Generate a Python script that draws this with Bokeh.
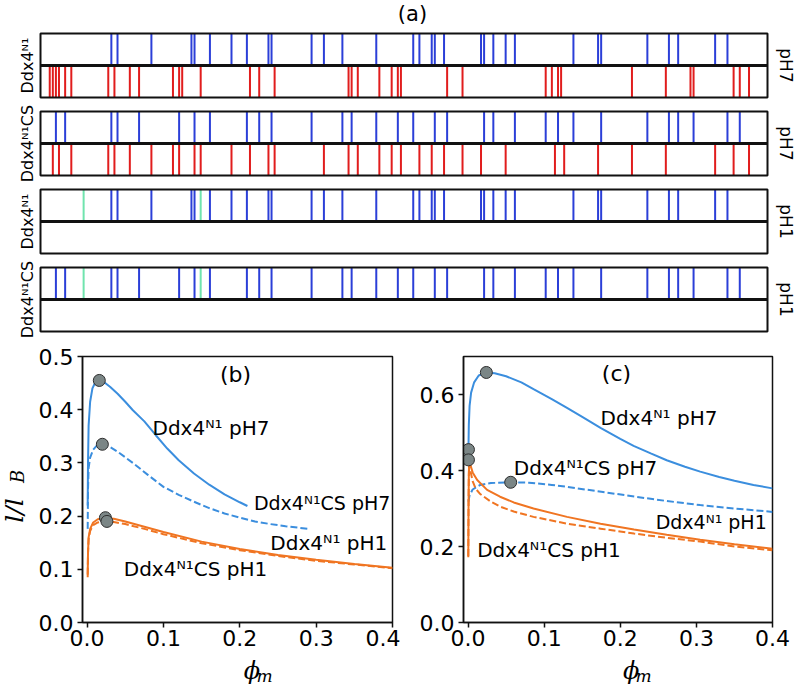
import math
from bokeh.plotting import figure
from bokeh.layouts import column, row
from bokeh.models import Range1d, Label, FixedTicker, PrintfTickFormatter
from bokeh.embed import file_html
from bokeh.resources import INLINE

# ---------------- data: panel (a) charge positions (residue index) ----------------
SEQ_LEN = 236
ddx4_pos = [23, 25, 36, 49, 50, 55, 62, 67, 74, 75, 88, 92, 98, 109, 121, 123, 127, 128, 131,
            143, 144, 147, 151, 154, 173, 181, 182, 197, 204, 207, 219, 223]
ddx4_neg = [3, 4, 5, 6, 8, 10, 22, 24, 29, 32, 43, 45, 46, 52, 68, 71, 76, 100, 101, 103, 110,
            114, 116, 117, 132, 137, 164, 166, 168, 169, 192, 203, 211, 212, 225, 227, 230]
ddx4cs_pos = [5, 8, 23, 25, 32, 45, 50, 55, 67, 71, 75, 88, 98, 101, 109, 116, 121, 128, 132,
              144, 147, 154, 164, 168, 173, 182, 197, 204, 207, 212, 223, 227]
ddx4cs_neg = [4, 6, 10, 22, 24, 29, 36, 43, 45, 50, 52, 62, 68, 74, 76, 92, 100, 103, 110, 114,
              117, 123, 127, 131, 137, 143, 151, 167, 170, 181, 192, 203, 219, 225, 230]
ph1_extra = [14, 52]

strip_names = ["Ddx4ᴺ¹", "Ddx4ᴺ¹CS", "Ddx4ᴺ¹", "Ddx4ᴺ¹CS"]
strip_ph = ["pH7", "pH7", "pH1", "pH1"]
strip_pos = [ddx4_pos, ddx4cs_pos, ddx4_pos, ddx4cs_pos]
strip_neg = [ddx4_neg, ddx4cs_neg, [], []]
strip_extra = [[], [], ph1_extra, ph1_extra]

# ---------------- data: panel (b) ----------------
b_phi_n1_ph7 = [0.0008, 0.0012, 0.002, 0.004, 0.007, 0.011, 0.016, 0.022, 0.03, 0.04, 0.05, 0.06,
                0.075, 0.09, 0.105, 0.12, 0.14, 0.16, 0.18, 0.2, 0.21]
b_l_n1_ph7 = [0.22, 0.30, 0.37, 0.415, 0.44, 0.452, 0.455, 0.452, 0.443, 0.43, 0.415, 0.399,
              0.378, 0.352, 0.327, 0.305, 0.28, 0.259, 0.241, 0.226, 0.219]
b_phi_cs_ph7 = [0.0008, 0.0012, 0.002, 0.004, 0.008, 0.013, 0.02, 0.03, 0.04, 0.06, 0.08, 0.1,
                0.12, 0.14, 0.16, 0.18, 0.2, 0.22, 0.24, 0.26, 0.29]
b_l_cs_ph7 = [0.176, 0.25, 0.29, 0.31, 0.325, 0.333, 0.335, 0.33, 0.321, 0.30, 0.277, 0.255,
              0.24, 0.227, 0.215, 0.205, 0.197, 0.19, 0.185, 0.181, 0.176]
b_phi_n1_ph1 = [0.0008, 0.0012, 0.002, 0.004, 0.008, 0.014, 0.024, 0.035, 0.05, 0.075, 0.1, 0.15,
                0.2, 0.25, 0.3, 0.35, 0.4]
b_l_n1_ph1 = [0.085, 0.13, 0.16, 0.176, 0.188, 0.194, 0.197, 0.195, 0.19, 0.18, 0.17, 0.152,
              0.138, 0.127, 0.118, 0.11, 0.103]
b_phi_cs_ph1 = [0.0008, 0.0012, 0.002, 0.004, 0.008, 0.014, 0.026, 0.035, 0.05, 0.075, 0.1, 0.15,
                0.2, 0.25, 0.3, 0.35, 0.4]
b_l_cs_ph1 = [0.09, 0.13, 0.157, 0.172, 0.183, 0.188, 0.19, 0.189, 0.185, 0.176, 0.166, 0.149,
              0.136, 0.125, 0.116, 0.109, 0.102]
b_crit_phi = [0.016, 0.02, 0.024, 0.026]
b_crit_l = [0.455, 0.335, 0.197, 0.19]

# ---------------- data: panel (c) ----------------
c_phi_n1_ph7 = [0.0005, 0.001, 0.002, 0.004, 0.008, 0.014, 0.024, 0.035, 0.05, 0.07, 0.086, 0.11,
                0.13, 0.15, 0.174, 0.2, 0.2175, 0.24, 0.261, 0.285, 0.305, 0.33, 0.35, 0.375, 0.4]
c_l_n1_ph7 = [0.455, 0.52, 0.57, 0.605, 0.632, 0.65, 0.658, 0.656, 0.648, 0.632, 0.614, 0.588,
              0.565, 0.541, 0.512, 0.483, 0.465, 0.445, 0.427, 0.41, 0.397, 0.383, 0.373, 0.362, 0.353]
c_phi_cs_ph7 = [0.0005, 0.002, 0.006, 0.016, 0.03, 0.056, 0.08, 0.11, 0.13, 0.175, 0.22, 0.26,
                0.305, 0.35, 0.4]
c_l_cs_ph7 = [0.318, 0.335, 0.35, 0.362, 0.367, 0.369, 0.368, 0.362, 0.357, 0.344, 0.331, 0.32,
              0.309, 0.3, 0.291]
c_phi_n1_ph1 = [0.0003, 0.0006, 0.001, 0.0015, 0.003, 0.006, 0.012, 0.025, 0.042, 0.06, 0.086,
                0.13, 0.174, 0.218, 0.261, 0.305, 0.35, 0.4]
c_l_n1_ph1 = [0.172, 0.30, 0.39, 0.425, 0.415, 0.395, 0.375, 0.349, 0.331, 0.316, 0.30, 0.278,
              0.26, 0.245, 0.231, 0.218, 0.206, 0.194]
c_phi_cs_ph1 = [0.0003, 0.0006, 0.001, 0.0015, 0.003, 0.006, 0.01, 0.016, 0.03, 0.042, 0.06,
                0.086, 0.13, 0.174, 0.218, 0.261, 0.305, 0.35, 0.4]
c_l_cs_ph1 = [0.175, 0.30, 0.385, 0.418, 0.40, 0.372, 0.352, 0.338, 0.318, 0.305, 0.292, 0.278,
              0.26, 0.247, 0.234, 0.223, 0.213, 0.2, 0.19]
c_crit_phi = [0.024, 0.056, 0.0005, 0.0005]
c_crit_l = [0.658, 0.369, 0.455, 0.428]

b_xticks = [0.0, 0.1, 0.2, 0.3, 0.4]
b_yticks = [0.0, 0.1, 0.2, 0.3, 0.4, 0.5]
c_xticks = [0.0, 0.1, 0.2, 0.3, 0.4]
c_yticks = [0.0, 0.2, 0.4, 0.6]

# ---------------- styles ----------------
POS_C = "#2b3fd8"
NEG_C = "#e11d1d"
EXTRA_C = "#70e4ae"
BLUE = "#3b8ede"
ORANGE = "#f07522"
INK = "#111111"
FONT = "DejaVu Sans"
SERIF = "DejaVu Serif"

# ---------------- panel (a): one figure, frame = whole canvas ----------------
TOP_W, TOP_H = 798, 338
BOX_LEFT_PX, BOX_W_PX = 40, 727          # strip box placement inside the canvas
STRIP_TOPS = [33, 111, 189, 267]          # canvas-pixel layout of the four strips
STRIP_H = 64
PX = BOX_W_PX / SEQ_LEN                   # pixels per residue

pa = figure(width=TOP_W, height=TOP_H, output_backend="svg", toolbar_location=None,
            x_range=Range1d(-BOX_LEFT_PX / PX, (TOP_W - BOX_LEFT_PX) / PX),
            y_range=Range1d(TOP_H, 0),
            x_axis_location=None, y_axis_location=None,
            min_border=0, min_border_left=0, min_border_right=0,
            min_border_top=0, min_border_bottom=0)
pa.grid.visible = False
pa.outline_line_color = None

for k in range(4):
    top = STRIP_TOPS[k]
    mid = top + STRIP_H / 2
    bot = top + STRIP_H
    if strip_pos[k]:
        pa.segment(x0=strip_pos[k], y0=mid, x1=strip_pos[k], y1=top, line_color=POS_C, line_width=2)
    if strip_neg[k]:
        pa.segment(x0=strip_neg[k], y0=mid, x1=strip_neg[k], y1=bot, line_color=NEG_C, line_width=2)
    if strip_extra[k]:
        pa.segment(x0=strip_extra[k], y0=mid, x1=strip_extra[k], y1=top, line_color=EXTRA_C,
                   line_width=2)
    pa.segment(x0=[0], y0=[mid], x1=[SEQ_LEN], y1=[mid], line_color=INK, line_width=3)
    pa.quad(left=[0], right=[SEQ_LEN], top=[top], bottom=[bot], fill_color=None,
            line_color=INK, line_width=2)
    pa.add_layout(Label(x=(26.5 - BOX_LEFT_PX) / PX, y=mid, text=strip_names[k],
                        angle=math.pi / 2, text_align="center", text_baseline="middle",
                        text_font=FONT, text_font_size="16px", text_color="black"))
    pa.add_layout(Label(x=(785 - BOX_LEFT_PX) / PX, y=mid, text=strip_ph[k], angle=-math.pi / 2,
                        text_align="center", text_baseline="middle", text_font=FONT,
                        text_font_size="17px", text_color="black"))
pa.add_layout(Label(x=(412 - BOX_LEFT_PX) / PX, y=13, text="(a)", text_align="center",
                    text_baseline="middle", text_font=FONT, text_font_size="21px",
                    text_color="black"))


def style_axes(p, xticks, yticks):
    p.grid.visible = False
    p.outline_line_color = INK
    p.outline_line_width = 1.5
    p.xaxis.ticker = FixedTicker(ticks=xticks)
    p.yaxis.ticker = FixedTicker(ticks=yticks)
    for ax in (p.xaxis, p.yaxis):
        ax.formatter = PrintfTickFormatter(format="%.1f")
        ax.major_label_text_font = FONT
        ax.major_label_text_font_size = "22px"
        ax.major_label_text_color = "black"
        ax.axis_line_color = INK
        ax.axis_line_width = 1.5
        ax.major_tick_line_color = INK
        ax.major_tick_line_width = 1.5
        ax.major_tick_out = 5
        ax.major_tick_in = 0
        ax.minor_tick_out = 0
        ax.minor_tick_in = 0
    p.xaxis.major_label_standoff = 2
    p.yaxis.major_label_standoff = 4


def curves(p, data):
    for (xs, ys, color, dash) in data:
        p.line(xs, ys, line_color=color, line_width=2, line_dash=dash)


def add_label(p, x, y, text, size="20px"):
    p.add_layout(Label(x=x, y=y, text=text, text_font=FONT, text_font_size=size,
                       text_align="left", text_baseline="middle", text_color="black"))


def empty_fig(w, h, xr, yr):
    f = figure(width=w, height=h, output_backend="svg", toolbar_location=None,
               x_range=xr, y_range=yr, x_axis_location=None, y_axis_location=None,
               min_border=0, min_border_left=0, min_border_right=0,
               min_border_top=0, min_border_bottom=0)
    f.grid.visible = False
    f.outline_line_color = None
    return f


FRAME_H = 266
BOT_TOP, BOT_BOTTOM = 18, 36
XLAB_H = 28
YL_W = 32

# ---------------- panel (b) ----------------
B_LEFT, B_RIGHT, B_W = 82 - YL_W, 8, 310
B_X = (-0.006, 0.4)
pb = figure(width=B_LEFT + B_W + B_RIGHT, height=BOT_TOP + FRAME_H + BOT_BOTTOM,
            output_backend="svg", toolbar_location=None,
            x_range=Range1d(*B_X), y_range=Range1d(0, 0.5),
            min_border_left=B_LEFT, min_border_right=B_RIGHT,
            min_border_top=BOT_TOP, min_border_bottom=BOT_BOTTOM)
style_axes(pb, b_xticks, b_yticks)
curves(pb, [
    (b_phi_n1_ph7, b_l_n1_ph7, BLUE, "solid"),
    (b_phi_cs_ph7, b_l_cs_ph7, BLUE, "7 3"),
    (b_phi_cs_ph1, b_l_cs_ph1, ORANGE, "7 3"),
    (b_phi_n1_ph1, b_l_n1_ph1, ORANGE, "solid"),
])
pb.scatter(b_crit_phi, b_crit_l, size=12, fill_color="#7b8686", line_color="#2e2e2e", line_width=1)
add_label(pb, 0.0857, 0.365, "Ddx4ᴺ¹ pH7")
add_label(pb, 0.2185, 0.224, "Ddx4ᴺ¹CS pH7", size="19px")
add_label(pb, 0.240, 0.150, "Ddx4ᴺ¹ pH1")
add_label(pb, 0.048, 0.1015, "Ddx4ᴺ¹CS pH1")
pb.add_layout(Label(x=0.1944, y=0.466, text="(b)", text_font=FONT, text_font_size="22px",
                    text_align="center", text_baseline="middle", text_color="black"))

# x label under (b)
pxb = B_W / (B_X[1] - B_X[0])
xlb = empty_fig(B_LEFT + B_W + B_RIGHT, XLAB_H,
                Range1d(B_X[0] - B_LEFT / pxb, B_X[1] + B_RIGHT / pxb), Range1d(0, XLAB_H))
xlb.add_layout(Label(x=0.192, y=15.5, text="ϕ", text_font=SERIF, text_font_style="italic",
                     text_font_size="24px", text_align="center", text_baseline="middle",
                     text_color="black"))
xlb.add_layout(Label(x=0.199, y=11, text="m", text_font=SERIF, text_font_style="italic",
                     text_font_size="17px", text_align="left", text_baseline="middle",
                     text_color="black"))

# ---------------- panel (c) ----------------
C_LEFT, C_RIGHT, C_W = 63, 26, 309
C_X = (-0.006, 0.4)
pc = figure(width=C_LEFT + C_W + C_RIGHT, height=BOT_TOP + FRAME_H + BOT_BOTTOM,
            output_backend="svg", toolbar_location=None,
            x_range=Range1d(*C_X), y_range=Range1d(0, 0.7),
            min_border_left=C_LEFT, min_border_right=C_RIGHT,
            min_border_top=BOT_TOP, min_border_bottom=BOT_BOTTOM)
style_axes(pc, c_xticks, c_yticks)
curves(pc, [
    (c_phi_n1_ph7, c_l_n1_ph7, BLUE, "solid"),
    (c_phi_cs_ph7, c_l_cs_ph7, BLUE, "7 3"),
    (c_phi_cs_ph1, c_l_cs_ph1, ORANGE, "7 3"),
    (c_phi_n1_ph1, c_l_n1_ph1, ORANGE, "solid"),
])
pc.scatter(c_crit_phi, c_crit_l, size=12, fill_color="#7b8686", line_color="#2e2e2e", line_width=1)
add_label(pc, 0.174, 0.539, "Ddx4ᴺ¹ pH7")
add_label(pc, 0.060, 0.407, "Ddx4ᴺ¹CS pH7")
add_label(pc, 0.2465, 0.265, "Ddx4ᴺ¹ pH1", size="19px")
add_label(pc, 0.012, 0.191, "Ddx4ᴺ¹CS pH1")
pc.add_layout(Label(x=0.195, y=0.654, text="(c)", text_font=FONT, text_font_size="22px",
                    text_align="center", text_baseline="middle", text_color="black"))

pxc = C_W / (C_X[1] - C_X[0])
xlc = empty_fig(C_LEFT + C_W + C_RIGHT, XLAB_H,
                Range1d(C_X[0] - C_LEFT / pxc, C_X[1] + C_RIGHT / pxc), Range1d(0, XLAB_H))
xlc.add_layout(Label(x=0.195, y=15.5, text="ϕ", text_font=SERIF, text_font_style="italic",
                     text_font_size="24px", text_align="center", text_baseline="middle",
                     text_color="black"))
xlc.add_layout(Label(x=0.2025, y=11, text="m", text_font=SERIF, text_font_style="italic",
                     text_font_size="17px", text_align="left", text_baseline="middle",
                     text_color="black"))

# ---------------- y label for (b) ----------------
YL_H = BOT_TOP + FRAME_H + BOT_BOTTOM + XLAB_H
yl = empty_fig(YL_W, YL_H, Range1d(0, YL_W), Range1d(YL_H, 0))
yl.add_layout(Label(x=14, y=172, text="l/l", text_font=SERIF, text_font_style="italic",
                    text_font_size="25px", angle=math.pi / 2, text_align="center",
                    text_baseline="middle", text_color="black"))
yl.add_layout(Label(x=17, y=138, text="B", text_font=SERIF, text_font_style="italic",
                    text_font_size="18px", angle=math.pi / 2, text_align="center",
                    text_baseline="middle", text_color="black"))

layout = column(pa, row(yl, column(pb, xlb, spacing=0), column(pc, xlc, spacing=0), spacing=0),
                spacing=0)

open("out.html", "w").write(file_html(layout, INLINE))
